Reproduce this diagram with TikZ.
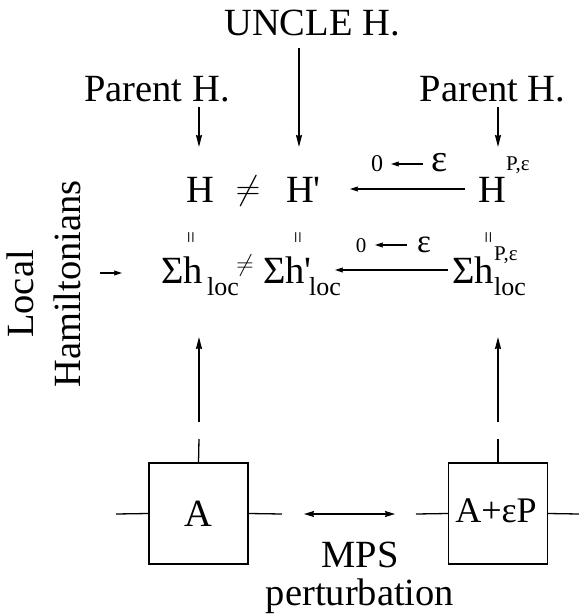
\RequirePackage{fix-cm}
\documentclass[tikz,border=0pt]{standalone}
\usepackage{fontspec}
\newfontfamily\rawfont{Liberation Serif}
\usetikzlibrary{arrows.meta}
\newcommand\fsz[1]{\fontsize{#1}{#1}\selectfont}
\begin{document}
\begin{tikzpicture}[x=1pt,y=-1pt,
  txt/.style={inner sep=0pt, font=\rawfont\fsz{38.5}},
  smalltxt/.style={inner sep=0pt, font=\rawfont\fsz{#1}},
  conn/.style={line width=1.3pt, -{Stealth[length=12pt,width=6pt,inset=1pt]}},
  sconn/.style={line width=1.2pt, -{Stealth[length=8pt,width=5pt,inset=1pt]}},
  dconn/.style={line width=1.3pt, {Stealth[length=10pt,width=6pt,inset=1pt]}-{Stealth[length=10pt,width=6pt,inset=1pt]}},
  leg/.style={line width=1.3pt},
  tensor/.style={draw, line width=1.3pt, minimum width=99pt, minimum height=101pt, inner sep=0pt},
  eqv/.style={inner sep=0pt, font=\rawfont\fsz{21}, rotate=90}]
\useasboundingbox (0,0) rectangle (579,614);

% top labels
\node[txt, anchor=base] (uncle) at (312,35) {UNCLE H.};
\node[txt, anchor=base] (parL) at (157,101) {Parent H.};
\node[txt, anchor=base] (parR) at (492.5,101) {Parent H.};

% row 1
\node[txt, anchor=base] (H) at (200,202) {H};
\node[inner sep=0pt, font=\fsz{34}, anchor=base] (ne1) at (248,199) {$\neq$};
\node[txt, anchor=base west] (Hp) at (286,202) {H'};
\node[txt, anchor=base west] (HP) at (478,202) {H};
\node[smalltxt=21, anchor=base west] (HPsup) at (506,170) {P,ε};
\node[smalltxt=24, anchor=base] (zeroA) at (377,171) {0};
\node[txt, anchor=base] (epsA) at (440,171) {ε};

% equality marks
\node[eqv] (eqA) at (193,238) {=};
\node[eqv] (eqB) at (300,238) {=};
\node[eqv] (eqC) at (490.5,238) {=};

% row 2
\node[txt, anchor=base west] (S1) at (161,283) {Σh};
\node[smalltxt=26, anchor=base west] (S1sub) at (207,295) {loc};
\node[inner sep=0pt, font=\fsz{24}, anchor=base] (ne2) at (245,271) {$\neq$};
\node[txt, anchor=base west] (S2) at (263,283) {Σh'};
\node[smalltxt=26, anchor=base west] (S2sub) at (309,295) {loc};
\node[txt, anchor=base west] (S3) at (452,283) {Σh};
\node[smalltxt=21, anchor=base west] (S3sup) at (494,260) {P,ε};
\node[smalltxt=26, anchor=base west] (S3sub) at (494,295) {loc};
\node[smalltxt=21, anchor=base] (zeroB) at (361,252) {0};
\node[smalltxt=33, anchor=base] (epsB) at (424,252) {ε};

% Local Hamiltonians
\node[txt, rotate=90] (loc) at (20,294) {Local};
\node[txt, rotate=90] (ham) at (67,284) {Hamiltonians};

% tensors
\node[tensor] (A) at (198.5,513.5) {};
\node[txt, anchor=base] (Atxt) at (198.5,526) {A};
\node[tensor] (B) at (498,513.5) {};
\node[smalltxt=36, anchor=base] (Btxt) at (496,522) {A+εP};
\node[txt, anchor=base] (mps) at (360,567) {MPS};
\node[txt, anchor=base] (pert) at (360,605) {perturbation};

% coordinates
\coordinate (d1s) at (199,107); \coordinate (d1e) at (199,147);
\coordinate (d2s) at (299,48);  \coordinate (d2e) at (299,147);
\coordinate (d3s) at (498,107); \coordinate (d3e) at (498,147);
\coordinate (r1s) at (465,189); \coordinate (r1e) at (350,189);
\coordinate (r2s) at (448,270); \coordinate (r2e) at (335,270);
\coordinate (z1s) at (423,164); \coordinate (z1e) at (391,164);
\coordinate (z2s) at (407,245); \coordinate (z2e) at (375,245);
\coordinate (lhs) at (100,273); \coordinate (lhe) at (122,273);
\coordinate (u1s) at (199,422); \coordinate (u1e) at (199,337);
\coordinate (u2s) at (498,422); \coordinate (u2e) at (498,337);
\coordinate (l1) at (199,439); \coordinate (l2) at (498,439);
\coordinate (aL) at (116,514); \coordinate (aR) at (282,514);
\coordinate (bL) at (416,514); \coordinate (bR) at (579,514);
\coordinate (mL) at (304,514); \coordinate (mR) at (395,514);

% connectors
\draw[conn] (d1s) -- (d1e);
\draw[conn] (d2s) -- (d2e);
\draw[conn] (d3s) -- (d3e);
\draw[sconn] (r1s) -- (r1e);
\draw[sconn] (r2s) -- (r2e);
\draw[sconn] (z1s) -- (z1e);
\draw[sconn] (z2s) -- (z2e);
\draw[sconn] (lhs) -- (lhe);
\draw[conn] (u1s) -- (u1e);
\draw[conn] (u2s) -- (u2e);
\draw[leg] (A.north) -- (l1);
\draw[leg] (B.north) -- (l2);
\draw[leg] (A.west) -- (aL);
\draw[leg] (A.east) -- (aR);
\draw[leg] (B.west) -- (bL);
\draw[leg] (B.east) -- (bR);
\draw[dconn] (mL) -- (mR);
\end{tikzpicture}
\end{document}
